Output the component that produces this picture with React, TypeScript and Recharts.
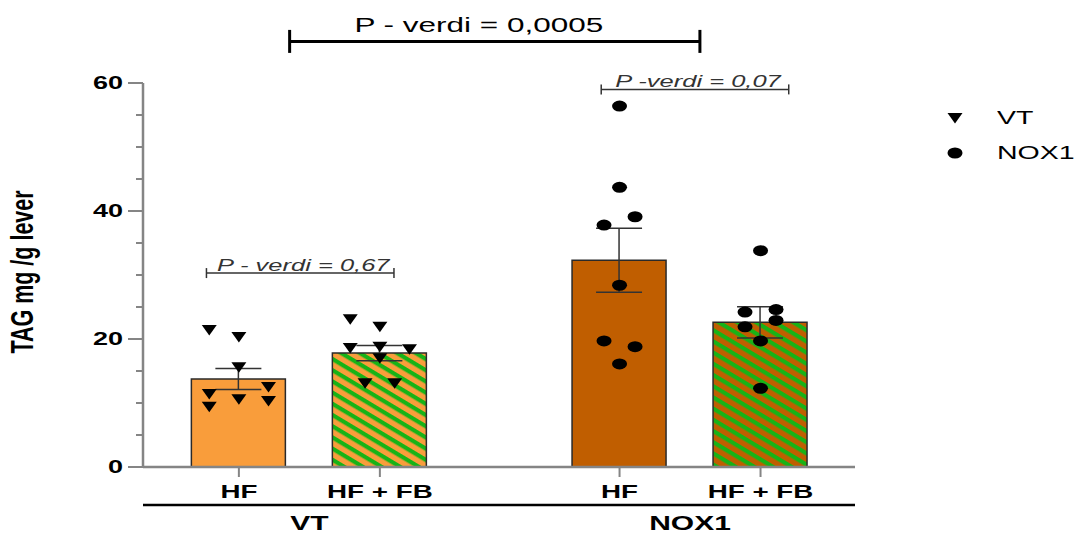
import {
  ComposedChart,
  Bar,
  Cell,
  ErrorBar,
  Scatter,
  XAxis,
  YAxis,
  ReferenceLine,
  Legend,
} from "recharts"

const FONT = '"Liberation Sans", Arial, sans-serif'
const SX = 1.5 // the source picture is stretched sideways
const AXIS = "#858585"

const genotypes = ["VT", "NOX1"]
const diets = ["HF", "HF + FB"]
const barPositions = [1, 2, 3.7, 4.7]
const barDiet = [0, 1, 0, 1]
const barMeans = [13.75, 17.8, 32.3, 22.6]
const barSem = [1.65, 1.2, 5.0, 2.45]
const groupPositions = [1.5, 4.2]

// individual animals, per bar (value + jitter column)
const vtHfValues = [21.4, 20.3, 15.6, 12.5, 11.4, 10.6, 10.3, 9.4]
const vtHfCols = [-1, 0, 0, 1, -1, 0, 1, -1]
const vtHfFbValues = [23.1, 21.9, 18.8, 18.6, 18.4, 17.0, 13.1, 13.1]
const vtHfFbCols = [-1, 0, 0, -1, 1, 0, -0.5, 0.5]
const noxHfValues = [56.4, 43.7, 39.1, 37.8, 28.4, 19.7, 18.8, 16.1]
const noxHfCols = [0, 0, 1, -1, 0, -1, 1, 0]
const noxHfFbValues = [33.8, 24.6, 24.2, 22.9, 21.9, 19.7, 12.3]
const noxHfFbCols = [0, 1, -1, 1, -1, 0, 0]

const yTicks = [0, 5, 10, 15, 20, 25, 30, 35, 40, 45, 50, 55, 60]
const yLabeled = [0, 20, 40, 60]

const brackets = [
  { label: "P - verdi = 0,0005", x1: 1.36, x2: 4.27, y: 66.5, major: true },
  { label: "P - verdi = 0,67", x1: 0.77, x2: 2.1, y: 30.3, major: false },
  { label: "P -verdi = 0,07", x1: 3.57, x2: 4.9, y: 59, major: false },
]

const X_DOMAIN = [0.32, 5.37]
const barFills = ["#F99D3B", "url(#stripesVt)", "#C05E00", "url(#stripesNox)"]

const barData = barPositions.map((x, i) => ({ x, y: barMeans[i], sem: barSem[i] }))

const spread = [0.21, 0.11]
const toPoints = (values: number[], cols: number[], bar: number, g: number) =>
  values.map((v, i) => ({ x: barPositions[bar] + cols[i] * spread[g], y: v }))

const vtPoints = [...toPoints(vtHfValues, vtHfCols, 0, 0), ...toPoints(vtHfFbValues, vtHfFbCols, 1, 0)]
const noxPoints = [...toPoints(noxHfValues, noxHfCols, 2, 1), ...toPoints(noxHfFbValues, noxHfFbCols, 3, 1)]

function SText({ x, y, size, anchor = "middle", weight = "normal", italic = false, fill = "#000", rotate = false, children }: any) {
  return (
    <text
      transform={`translate(${x},${y}) scale(${SX},1)${rotate ? " rotate(-90)" : ""}`}
      textAnchor={anchor}
      fontSize={size}
      fontWeight={weight}
      fontStyle={italic ? "italic" : "normal"}
      fontFamily={FONT}
      fill={fill}
    >
      {children}
    </text>
  )
}

const Triangle = ({ cx, cy }: any) => (
  <polygon points={`${cx - 7.5},${cy - 5} ${cx + 7.5},${cy - 5} ${cx},${cy + 5.5}`} fill="#000" />
)
const Dot = ({ cx, cy }: any) => <ellipse cx={cx} cy={cy} rx={7.5} ry={5.5} fill="#000" />

function YTick({ x, y, payload }: any) {
  const v = payload.value
  const ax = x + 20
  const major = yLabeled.includes(v)
  return (
    <g>
      <line x1={ax - (major ? 15 : 7)} x2={ax} y1={y} y2={y} stroke={AXIS} strokeWidth={2} />
      {major && (
        <SText x={x} y={y + 6} size={18} anchor="end" weight="bold">
          {v}
        </SText>
      )}
    </g>
  )
}

function DietTick({ x, y, payload }: any) {
  const i = barPositions.indexOf(payload.value)
  return (
    <SText x={x} y={y + 21} size={18.5} weight="bold">
      {diets[barDiet[i]]}
    </SText>
  )
}

function GroupTick({ x, y, payload }: any) {
  const i = groupPositions.indexOf(payload.value)
  return (
    <SText x={x} y={y + 25} size={20} weight="bold">
      {genotypes[i]}
    </SText>
  )
}

function YLabel({ viewBox }: any) {
  return (
    <SText x={viewBox.x - 10} y={viewBox.y + viewBox.height / 2 - 3} size={21.5} weight="bold" rotate>
      TAG mg /g lever
    </SText>
  )
}

function bracketShape(b: (typeof brackets)[number]) {
  return ({ x1, x2, y1 }: any) => {
    const cap = b.major ? 11.5 : 5
    const mid = (x1 + x2) / 2
    const stroke = b.major ? "#000" : "#333"
    const w = b.major ? 3 : 1.5
    return (
      <g>
        <line x1={x1} x2={x2} y1={y1} y2={y1} stroke={stroke} strokeWidth={w} />
        <line x1={x1} x2={x1} y1={y1 - cap} y2={y1 + cap} stroke={stroke} strokeWidth={w} />
        <line x1={x2} x2={x2} y1={y1 - cap} y2={y1 + cap} stroke={stroke} strokeWidth={w} />
        {b.major ? (
          <SText x={mid - 16} y={y1 - 9} size={21}>
            {b.label}
          </SText>
        ) : (
          <SText x={mid + 3} y={y1 - 2} size={17} italic fill="#333">
            {b.label}
          </SText>
        )}
      </g>
    )
  }
}

function LegendContent({ payload }: any) {
  const items = (payload || [])
    .filter((e: any) => genotypes.includes(e.value))
    .sort((a: any, b: any) => genotypes.indexOf(a.value) - genotypes.indexOf(b.value))
  return (
    <div style={{ width: 140 }}>
      {items.map((entry: any) => (
        <div key={entry.value} style={{ display: "flex", alignItems: "center", height: 35 }}>
          <svg width={30} height={20}>
            {entry.value === "VT" ? <Triangle cx={15} cy={10} /> : <Dot cx={15} cy={10} />}
          </svg>
          <span
            style={{
              marginLeft: 27,
              fontSize: 19,
              fontFamily: FONT,
              display: "inline-block",
              transform: `scaleX(${SX})`,
              transformOrigin: "left center",
              lineHeight: "20px",
            }}
          >
            {entry.value}
          </span>
        </div>
      ))}
    </div>
  )
}

export default function App() {
  return (
    <div style={{ position: "absolute", left: 0, top: 0, width: 1080, height: 533, background: "#fff" }}>
      <ComposedChart
        width={1080}
        height={533}
        data={barData}
        margin={{ top: 83, right: 85, left: 43, bottom: 0 }}
      >
        <defs>
          <pattern id="stripesVt" patternUnits="userSpaceOnUse" width={10} height={9.6} patternTransform="rotate(31)">
            <rect width={10} height={9.6} fill="#F99D3B" />
            <rect width={10} height={4.2} fill="#17B317" />
          </pattern>
          <pattern id="stripesNox" patternUnits="userSpaceOnUse" width={10} height={9.6} patternTransform="rotate(31)">
            <rect width={10} height={9.6} fill="#C05E00" />
            <rect width={10} height={4.2} fill="#17B317" />
          </pattern>
        </defs>

        <XAxis
          dataKey="x"
          type="number"
          domain={X_DOMAIN}
          allowDataOverflow
          ticks={barPositions}
          height={38}
          tickSize={10}
          tickMargin={0}
          axisLine={{ stroke: AXIS, strokeWidth: 2.5 }}
          tickLine={{ stroke: AXIS, strokeWidth: 2 }}
          tick={<DietTick />}
        />
        <XAxis
          xAxisId="group"
          dataKey="x"
          type="number"
          domain={X_DOMAIN}
          allowDataOverflow
          ticks={groupPositions}
          height={28}
          tickSize={0}
          tickMargin={0}
          axisLine={{ stroke: "#000", strokeWidth: 2.5 }}
          tickLine={false}
          tick={<GroupTick />}
        />
        <YAxis
          dataKey="y"
          type="number"
          domain={[0, 60]}
          ticks={yTicks}
          width={100}
          tickSize={15}
          tickMargin={5}
          interval={0}
          axisLine={{ stroke: AXIS, strokeWidth: 2.5 }}
          tickLine={false}
          tick={<YTick />}
          label={<YLabel />}
        />

        <Bar dataKey="y" barSize={94} stroke="#2a2a2a" strokeWidth={1.5} legendType="none" isAnimationActive={false}>
          {barData.map((_, i) => (
            <Cell key={`bar-${i}`} fill={barFills[i]} />
          ))}
          <ErrorBar dataKey="sem" width={23} stroke="#333" strokeWidth={1.5} direction="y" />
        </Bar>

        <Scatter name="VT" xAxisId="group" data={vtPoints} shape={<Triangle />} fill="#000" isAnimationActive={false} />
        <Scatter name="NOX1" xAxisId="group" data={noxPoints} shape={<Dot />} fill="#000" isAnimationActive={false} />

        {brackets.map((b) => (
          <ReferenceLine
            key={b.label}
            segment={[
              { x: b.x1, y: b.y },
              { x: b.x2, y: b.y },
            ]}
            ifOverflow="visible"
            shape={bracketShape(b)}
          />
        ))}

        <Legend
          layout="vertical"
          align="right"
          verticalAlign="top"
          width={140}
          wrapperStyle={{ left: 940, top: 100, width: 140 }}
          content={<LegendContent />}
        />
      </ComposedChart>
    </div>
  )
}
